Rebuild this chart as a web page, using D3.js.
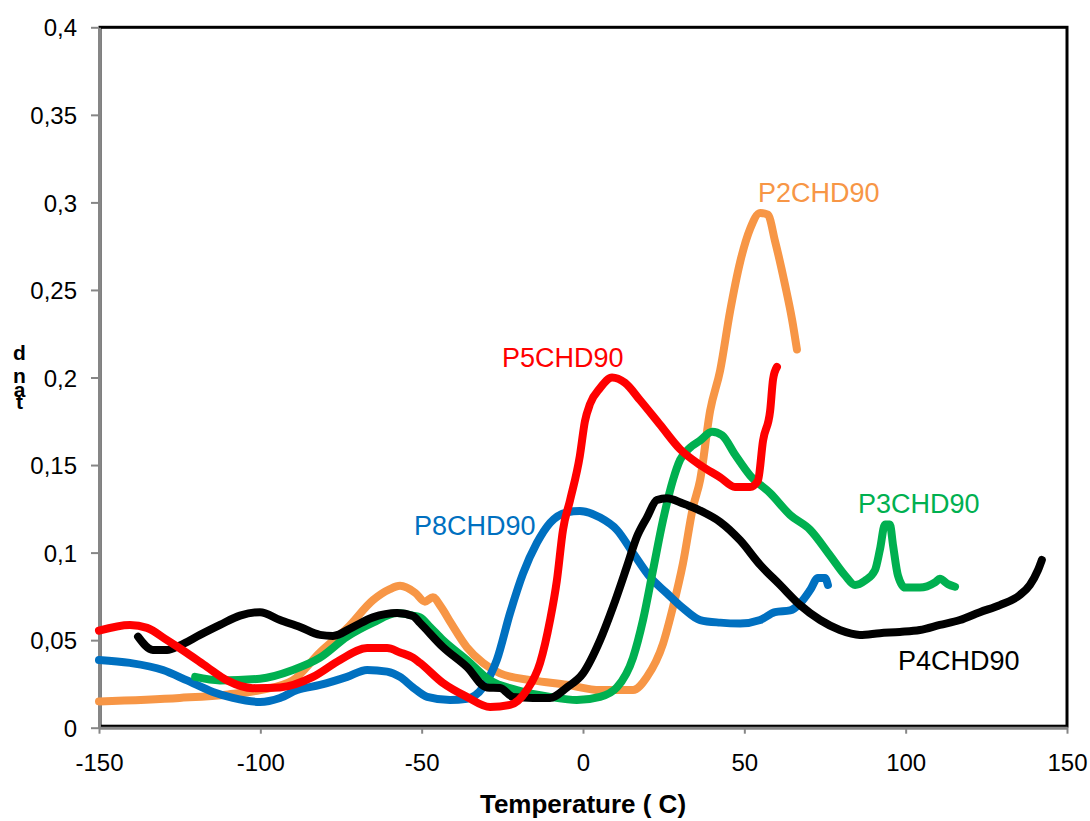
<!DOCTYPE html>
<meta charset="utf-8">
<style>
body { margin: 0; background: #fff; }
text { font-family: "Liberation Sans", Arial, sans-serif; }
</style>
<body>
<script src="https://cdn.jsdelivr.net/npm/d3@7"></script>
<script>
// data: [temperature, tan d]
var p2chd90 = [[-150,0.015],[-125,0.017],[-110,0.019],[-100,0.0215],[-90,0.027],[-81.5,0.043],[-73,0.057],[-65,0.073],[-60,0.079],[-56.7,0.081],[-52,0.077],[-49,0.072],[-46.5,0.0745],[-44,0.069],[-41,0.06],[-36,0.046],[-31,0.037],[-25.7,0.031],[-15.5,0.027],[-5,0.0245],[5.3,0.0215],[15.5,0.0215],[19.8,0.029],[24.8,0.048],[27.9,0.069],[31,0.094],[34.1,0.126],[36.3,0.1415],[39.4,0.181],[42.5,0.204],[45.6,0.238],[48.7,0.266],[51.8,0.285],[54.9,0.294],[57.3,0.293],[59.5,0.278],[62.6,0.253],[64.8,0.233],[66.3,0.216]];
var p8chd90 = [[-150,0.0387],[-140.4,0.037],[-130.2,0.033],[-122.7,0.027],[-114.7,0.0204],[-108.5,0.017],[-100.1,0.0147],[-93.9,0.017],[-88.6,0.0215],[-81.5,0.0244],[-73.1,0.029],[-66.9,0.033],[-60.7,0.032],[-56.7,0.029],[-52.7,0.023],[-48.3,0.0176],[-41.2,0.0158],[-36,0.0165],[-31,0.023],[-26.7,0.0387],[-22.6,0.0655],[-18.6,0.088],[-14.3,0.1055],[-10.2,0.117],[-5,0.123],[-1,0.1238],[5.3,0.12],[10.5,0.113],[15.5,0.0998],[20.8,0.086],[26,0.0768],[31,0.0683],[36.3,0.0615],[42.5,0.06],[48.7,0.0595],[54.9,0.0615],[59.5,0.066],[64.2,0.067],[67.3,0.071],[70.4,0.0786],[72.8,0.0855],[75,0.0855],[75.9,0.0815]];
var p3chd90 = [[-120.2,0.029],[-112.5,0.027],[-100.1,0.028],[-89.9,0.033],[-81.5,0.04],[-73.1,0.052],[-65.1,0.06],[-57.6,0.0655],[-52.7,0.064],[-50.5,0.063],[-47.4,0.0575],[-43.4,0.05],[-36,0.0387],[-28.8,0.027],[-20.5,0.0215],[-10.2,0.0176],[-1.9,0.0158],[5.3,0.0176],[10.5,0.023],[15.5,0.04],[18.6,0.0615],[21.7,0.09],[24.8,0.1185],[27.9,0.1415],[30.1,0.153],[33.2,0.16],[36.3,0.164],[40,0.169],[43.1,0.167],[47.1,0.156],[51.8,0.144],[58,0.134],[64.2,0.1215],[70.4,0.113],[76.5,0.0985],[81.2,0.087],[84.3,0.0815],[87.4,0.084],[90.5,0.09],[92,0.1015],[93.6,0.116],[95.1,0.116],[96.1,0.104],[97.6,0.087],[99.8,0.08],[104.4,0.08],[109.1,0.083],[110.6,0.085],[113.1,0.082],[115.3,0.0805]];
var p4chd90 = [[-137.9,0.052],[-133.3,0.0444],[-128.9,0.0444],[-124.9,0.047],[-118.7,0.053],[-112.5,0.0587],[-106.3,0.064],[-100.1,0.066],[-93.9,0.0615],[-87.7,0.0575],[-81.5,0.053],[-77.5,0.0524],[-71.3,0.0575],[-65.1,0.063],[-57.6,0.0655],[-52.7,0.0638],[-50.5,0.0598],[-43.4,0.046],[-36,0.0347],[-29.8,0.023],[-25.7,0.0227],[-21.7,0.0176],[-15.5,0.017],[-10.2,0.017],[-5,0.023],[0,0.031],[5.3,0.05],[9.3,0.069],[13.6,0.092],[16.7,0.109],[19.8,0.12],[22.9,0.13],[26,0.131],[31,0.128],[36.3,0.124],[42.5,0.1175],[48.7,0.107],[54.9,0.093],[61.1,0.0815],[67.3,0.07],[73.5,0.0615],[79.6,0.0558],[85.8,0.053],[92,0.054],[98.2,0.0547],[104.4,0.0558],[110.6,0.0587],[116.8,0.0615],[123,0.066],[129.2,0.07],[135.4,0.0758],[138.5,0.0815],[141,0.09],[142.2,0.0958]];
var p5chd90 = [[-150,0.0554],[-140.4,0.0587],[-135.1,0.057],[-128.9,0.05],[-122.7,0.0426],[-116.5,0.0347],[-110.3,0.027],[-102.3,0.0226],[-93.9,0.023],[-83.7,0.029],[-75.3,0.0387],[-66.9,0.0455],[-60.7,0.0455],[-56.7,0.043],[-52.7,0.04],[-50.5,0.037],[-43.4,0.0255],[-36,0.0176],[-28.8,0.0118],[-22.6,0.013],[-17.4,0.0215],[-13.3,0.037],[-10.2,0.0615],[-8.1,0.084],[-6.2,0.113],[-4,0.13],[-1,0.155],[0.6,0.175],[2.2,0.185],[5.3,0.194],[9,0.2],[13,0.197],[17.7,0.187],[23.9,0.173],[30.1,0.159],[36.3,0.15],[42.5,0.143],[47.1,0.1375],[51.8,0.1375],[54.2,0.141],[55.8,0.164],[58,0.181],[58.9,0.199],[60.1,0.206]];

var seriesNames = ["P2CHD90", "P8CHD90", "P3CHD90", "P4CHD90", "P5CHD90"];
var seriesData = [p2chd90, p8chd90, p3chd90, p4chd90, p5chd90];
var seriesColors = ["#F79646", "#0070C0", "#00B050", "#000000", "#FF0000"];
// label anchor points [temperature, value]
var labelPos = [[54.2,0.3002], [-52.4,0.1102], [85.2,0.1226], [97.6,0.0329], [-25.1,0.206]];

var xTicks = [-150, -100, -50, 0, 50, 100, 150];
var yTicks = [0, 0.05, 0.1, 0.15, 0.2, 0.25, 0.3, 0.35, 0.4];
var xTitle = "Temperature ( C)";
var yTitleLetters = ["d", "n", "a", "t"];

var width = 1090, height = 821;
var plotLeft = 99, plotRight = 1067, plotTop = 27.3, plotBottom = 727.7;

var locale = d3.formatLocale({decimal: ",", thousands: ".", grouping: [3], currency: ["", ""], minus: "-"});
var yFmt = locale.format("~g");
var xFmt = locale.format("d");

var svg = d3.select("body").append("svg")
    .attr("width", width)
    .attr("height", height);

svg.append("rect").attr("width", width).attr("height", height).attr("fill", "#fff");

var x = d3.scaleLinear().domain([-150, 150]).range([plotLeft, plotRight]);
var y = d3.scaleLinear().domain([0, 0.4]).range([plotBottom, plotTop]);

// plot area border
svg.append("rect")
    .attr("x", plotLeft + 1).attr("y", plotTop)
    .attr("width", plotRight - plotLeft - 1).attr("height", plotBottom - plotTop - 1.5)
    .attr("fill", "none").attr("stroke", "#000").attr("stroke-width", 3);

// axes
var xAxis = svg.append("g")
    .attr("transform", "translate(0," + plotBottom + ")")
    .call(d3.axisBottom(x).tickValues(xTicks).tickSizeInner(6).tickSizeOuter(0).tickPadding(20).tickFormat(xFmt));
var yAxis = svg.append("g")
    .attr("transform", "translate(" + plotLeft + ",0)")
    .call(d3.axisLeft(y).tickValues(yTicks).tickSizeInner(8).tickSizeOuter(0).tickPadding(14).tickFormat(yFmt));

[xAxis, yAxis].forEach(function(a) {
  a.select(".domain").attr("stroke", "#868686").attr("stroke-width", 3);
  a.selectAll(".tick line").attr("stroke", "#868686").attr("stroke-width", 2);
  a.selectAll(".tick text")
    .attr("font-family", "'Liberation Sans', Arial, sans-serif")
    .attr("font-size", 24).attr("fill", "#000");
});
yAxis.selectAll(".tick text").attr("dy", "0.36em");

// series
var line = d3.line()
    .x(function(d) { return x(d[0]); })
    .y(function(d) { return y(d[1]); })
    .curve(d3.curveMonotoneX);

seriesData.forEach(function(data, i) {
  svg.append("path")
    .datum(data)
    .attr("d", line)
    .attr("fill", "none")
    .attr("stroke", seriesColors[i])
    .attr("stroke-width", 8)
    .attr("stroke-linecap", "round")
    .attr("stroke-linejoin", "round");
});

// series labels
seriesNames.forEach(function(name, i) {
  svg.append("text")
    .attr("x", x(labelPos[i][0]))
    .attr("y", y(labelPos[i][1]))
    .attr("font-size", 27)
    .attr("fill", seriesColors[i])
    .text(name);
});

// axis titles
svg.append("text")
  .attr("x", (plotLeft + plotRight) / 2)
  .attr("y", 813)
  .attr("text-anchor", "middle")
  .attr("font-size", 26)
  .attr("font-weight", "bold")
  .text(xTitle);

var letterY = [360, 383, 397, 409];
yTitleLetters.forEach(function(ch, i) {
  svg.append("text")
    .attr("x", 19.5)
    .attr("y", letterY[i])
    .attr("text-anchor", "middle")
    .attr("font-size", 21)
    .attr("font-weight", "bold")
    .text(ch);
});
</script>
</body>
